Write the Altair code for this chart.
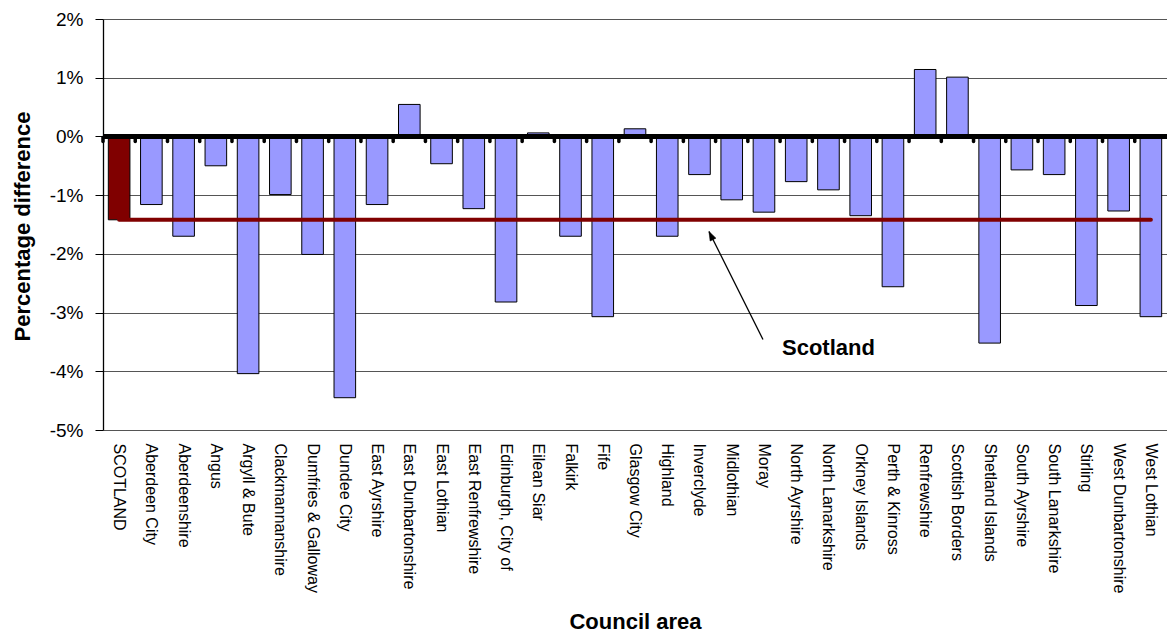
import altair as alt
import pandas as pd

# ---- data ----
areas = [
    "SCOTLAND", "Aberdeen City", "Aberdeenshire", "Angus", "Argyll & Bute",
    "Clackmannanshire", "Dumfries & Galloway", "Dundee City", "East Ayrshire",
    "East Dunbartonshire", "East Lothian", "East Renfrewshire", "Edinburgh, City of",
    "Eilean Siar", "Falkirk", "Fife", "Glasgow City", "Highland", "Inverclyde",
    "Midlothian", "Moray", "North Ayrshire", "North Lanarkshire", "Orkney Islands",
    "Perth & Kinross", "Renfrewshire", "Scottish Borders", "Shetland Islands",
    "South Ayrshire", "South Lanarkshire", "Stirling", "West Dunbartonshire",
    "West Lothian",
]
pct_diff = [
    -1.42, -1.16, -1.70, -0.50, -4.04,
    -0.99, -2.01, -4.45, -1.16,
    0.545, -0.465, -1.23, -2.82,
    0.06, -1.70, -3.07, 0.13, -1.70, -0.65,
    -1.08, -1.29, -0.77, -0.91, -1.35,
    -2.56, 1.14, 1.01, -3.52,
    -0.57, -0.65, -2.88, -1.27,
    -3.07,
]
scotland_value = -1.42
y_ticks = [-5, -4, -3, -2, -1, 0, 1, 2]

# annotation: label and arrow
label_text = ["Scotland"]
label_area = ["North Lanarkshire"]
label_value = [-3.73]
arrow_from_area = ["Moray"]
arrow_from_value = [-3.46]
arrow_to_area = ["Inverclyde"]
arrow_to_value = [-1.62]

W, H = 1064, 411
n = len(areas)
step = W / n

df = pd.DataFrame({"area": areas, "value": pct_diff})
FONT = "Liberation Sans"

x_scale = alt.Scale(domain=areas, paddingInner=0.33, paddingOuter=0.165)
y_scale = alt.Scale(domain=[-5, 2], nice=False, zero=False)

x_enc = alt.X(
    "area:N", scale=x_scale, sort=None,
    axis=alt.Axis(
        title="Council area", titleFont=FONT, titleFontSize=22, titleFontWeight="bold",
        titleColor="black", titleX=W / 2, titleY=198, titleBaseline="alphabetic",
        titleAlign="center",
        labelAngle=90, labelAlign="left", labelBaseline="middle", labelFont=FONT,
        labelFontSize=16, labelColor="black", labelPadding=13, labelLimit=400,
        labelOverlap=False, ticks=False, tickSize=0, domain=False, grid=False,
    ),
)
y_enc = alt.Y(
    "value:Q", scale=y_scale,
    axis=alt.Axis(
        values=y_ticks, labelExpr="datum.value + '%'", title="Percentage difference",
        titleFont=FONT, titleFontSize=22, titleFontWeight="bold", titleColor="black",
        titleAngle=-90, titleX=-74, titleY=207, titleAlign="center",
        titleBaseline="alphabetic",
        labelFont=FONT, labelFontSize=19, labelColor="black", labelPadding=12,
        tickSize=8, tickColor="black", tickWidth=1, domainColor="black",
        domainWidth=1.3, grid=True, gridColor="#555555", gridWidth=1,
    ),
)

bars = alt.Chart(df).mark_bar(stroke="black", strokeWidth=1).encode(
    x=x_enc,
    y=y_enc,
    y2=alt.datum(0),
    color=alt.condition(alt.datum.area == "SCOTLAND", alt.value("#800000"), alt.value("#9999FF")),
)

scot_df = pd.DataFrame({"a": [areas[0]], "b": [areas[-1]], "v": [scotland_value]})
scot_line = alt.Chart(scot_df).mark_rule(color="#800000", strokeWidth=4, strokeCap="round").encode(
    x=alt.X("a:N", scale=x_scale, sort=None),
    x2="b:N",
    y=alt.Y("v:Q", scale=y_scale),
)

zero_line = alt.Chart(df).mark_rule(color="black", strokeWidth=3.6).encode(
    y=alt.datum(0, scale=y_scale),
)

dots = alt.Chart(df).mark_rule(
    color="black", strokeWidth=3.5, strokeCap="round", xOffset=-step / 2, yOffset=1, y2Offset=5
).encode(
    x=alt.X("area:N", scale=x_scale, sort=None),
    y=alt.datum(0, scale=y_scale),
    y2=alt.datum(0),
)

arrow_df = pd.DataFrame({
    "a": arrow_from_area, "av": arrow_from_value,
    "b": arrow_to_area, "bv": arrow_to_value,
})
arrow_line = alt.Chart(arrow_df).mark_rule(
    color="black", strokeWidth=1.3, xOffset=-1, x2Offset=9.5
).encode(
    x=alt.X("a:N", scale=x_scale, sort=None),
    x2="b:N",
    y=alt.Y("av:Q", scale=y_scale),
    y2="bv:Q",
)
arrow_head = alt.Chart(arrow_df).mark_point(
    shape="M0,0 L-0.36,1 L0.36,1 Z", size=324, filled=True, fill="black",
    stroke="black", strokeWidth=0.5, opacity=1, angle=333.4, xOffset=9.5,
).encode(
    x=alt.X("b:N", scale=x_scale, sort=None),
    y=alt.Y("bv:Q", scale=y_scale),
)

label_df = pd.DataFrame({"t": label_text, "a": label_area, "v": label_value})
label = alt.Chart(label_df).mark_text(
    font=FONT, fontSize=22, fontWeight="bold", color="black",
    align="center", baseline="alphabetic",
).encode(
    x=alt.X("a:N", scale=x_scale, sort=None),
    y=alt.Y("v:Q", scale=y_scale),
    text="t:N",
)

chart = alt.layer(
    bars, scot_line, zero_line, dots, arrow_line, arrow_head, label
).properties(
    width=W, height=H,
    autosize=alt.AutoSizeParams(type="none"),
    padding={"left": 103, "top": 19, "right": 0, "bottom": 203},
    background="white",
).configure_view(stroke=None)

chart.save("out.html", embed_options={"renderer": "svg", "actions": False})
